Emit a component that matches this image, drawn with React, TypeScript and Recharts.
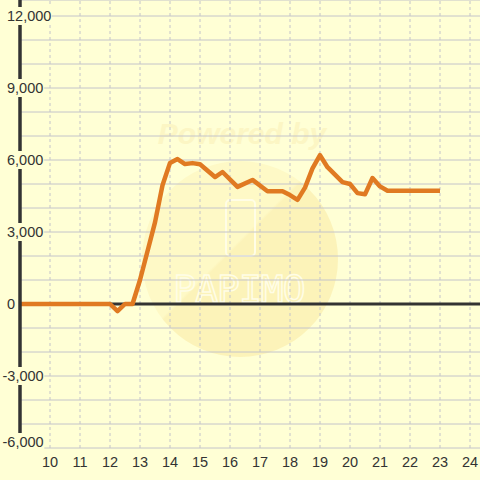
import React from 'react';
import {
  LineChart,
  Line,
  XAxis,
  YAxis,
  CartesianGrid,
  ReferenceLine,
} from 'recharts';

// hour of day (x) and value (y) of each vertex of the line
const hours = [
  9, 12, 12.25, 12.5, 12.75, 13, 13.25, 13.5, 13.75, 14, 14.25, 14.5, 14.75, 15,
  15.5, 15.75, 16.25, 16.75, 17.25, 17.75, 18, 18.25, 18.5, 18.75, 19, 19.25,
  19.75, 20, 20.25, 20.5, 20.75, 21, 21.25, 23,
];
const values = [
  0, 0, -300, 0, 0, 1000, 2200, 3400, 4950, 5880, 6040, 5830, 5870, 5820,
  5290, 5500, 4880, 5170, 4700, 4700, 4540, 4340, 4850, 5650, 6200, 5700,
  5080, 5000, 4620, 4570, 5250, 4900, 4720, 4720,
];

const xTicks = [10, 11, 12, 13, 14, 15, 16, 17, 18, 19, 20, 21, 22, 23, 24];
const yTicks = [
  -6000, -5000, -4000, -3000, -2000, -1000, 0, 1000, 2000, 3000, 4000, 5000,
  6000, 7000, 8000, 9000, 10000, 11000, 12000,
];

const data = hours.map((h, i) => ({ h, v: values[i] }));

const BG = '#FFFFD5';
const TEXT = '#333333';
const GRID = '#C4C4CA';
const FONT = "'Liberation Sans', Arial, sans-serif";

// rough Arial widths at 14px
const textWidth = (s: string) =>
  s.split('').reduce((w, c) => w + (c === ',' ? 3.9 : c === '-' ? 4.7 : 7.8), 0);

const YTick = ({ y, payload }: any) => {
  const v = payload.value;
  if (v % 3000 !== 0) return <g />;
  const label = v.toLocaleString('en-US');
  const w = textWidth(label);
  const x0 = v < 0 ? 2.5 : 7;
  const cy = Math.min(y, 442);
  return (
    <g>
      <rect x={x0 - 2} y={cy - 9} width={w + 4} height={18} fill={BG} />
      <text
        x={x0}
        y={cy + 5}
        textAnchor="start"
        fontSize={14.5}
        fontFamily={FONT}
        fill={TEXT}
      >
        {label}
      </text>
    </g>
  );
};

const XTick = ({ x, payload }: any) => (
  <text
    x={x}
    y={467}
    textAnchor="middle"
    fontSize={14.5}
    fontFamily={FONT}
    fill={TEXT}
  >
    {payload.value}
  </text>
);

// faint logo behind the plot
const Watermark = () => (
  <svg
    width={480}
    height={480}
    style={{ position: 'absolute', left: 0, top: 0 }}
  >
    <defs>
      <linearGradient id="wm" x1="0" y1="0" x2="1" y2="1">
        <stop offset="0.45" stopColor="#FEF9C6" />
        <stop offset="0.46" stopColor="#FCF3B9" />
      </linearGradient>
    </defs>
    <circle cx={240} cy={259} r={98} fill="url(#wm)" />
    <text
      x={242}
      y={144}
      textAnchor="middle"
      fontSize={30}
      fontWeight="bold"
      fontStyle="italic"
      fontFamily={FONT}
      fill="#FCF6C4"
    >
      Powered by
    </text>
    <rect
      x={226}
      y={200}
      width={29}
      height={56}
      rx={4}
      fill="none"
      stroke="#FFFDE6"
      strokeWidth={2}
    />
    <text
      x={239}
      y={302}
      textAnchor="middle"
      fontSize={38}
      fontFamily="'DejaVu Sans Mono', monospace"
      fill="none"
      stroke="#FFFDE6"
      strokeWidth={1.5}
      letterSpacing={-1}
    >
      PAPIMO
    </text>
  </svg>
);

export default function App() {
  return (
    <div
      style={{
        position: 'absolute',
        left: 0,
        top: 0,
        width: 480,
        height: 480,
        background: BG,
        overflow: 'hidden',
      }}
    >
      <Watermark />
      <div style={{ position: 'absolute', left: 0, top: 0 }}>
        <LineChart
          width={480}
          height={480}
          data={data}
          margin={{ top: 0, right: 0, bottom: 0, left: 0 }}
        >
          <CartesianGrid stroke={GRID} vertical={false} />
          {/* dashed hour lines */}
          {xTicks.map((t) => (
            <ReferenceLine
              key={t}
              x={t}
              stroke={GRID}
              strokeDasharray="3 3"
            />
          ))}
          <XAxis
            dataKey="h"
            type="number"
            domain={[9, 24.3333]}
            ticks={xTicks}
            allowDataOverflow
            axisLine={false}
            tickLine={false}
            height={32}
            tick={<XTick />}
            interval={0}
          />
          <YAxis
            type="number"
            domain={[-6000, 12666.67]}
            ticks={yTicks}
            allowDataOverflow
            width={20}
            axisLine={{ stroke: TEXT, strokeWidth: 3.5 }}
            tickLine={false}
            tick={<YTick />}
            interval={0}
          />
          <ReferenceLine y={0} stroke={TEXT} strokeWidth={3} />
          <Line
            dataKey="v"
            stroke="#E07A22"
            strokeWidth={4.5}
            dot={false}
            strokeLinejoin="round"
            isAnimationActive={false}
          />
        </LineChart>
      </div>
    </div>
  );
}
